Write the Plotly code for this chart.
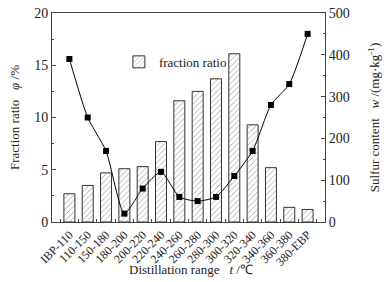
import plotly.graph_objects as go

categories = ["IBP-110", "110-150", "150-180", "180-200", "200-220", "220-240", "240-260",
              "260-280", "280-300", "300-320", "320-340", "340-360", "360-380", "380-EBP"]
fraction_ratio = [2.7, 3.5, 4.7, 5.1, 5.3, 7.7, 11.6, 12.5, 13.7, 16.1, 9.3, 5.2, 1.4, 1.2]
sulfur_content = [390, 250, 170, 20, 80, 120, 60, 50, 60, 110, 170, 280, 330, 450]

FONT = "Liberation Serif"

fig = go.Figure()
fig.add_trace(go.Bar(
    x=categories, y=fraction_ratio, name="fraction ratio",
    width=0.6,
    marker=dict(color="white", line=dict(color="#333333", width=1),
                pattern=dict(shape="/", fgcolor="#444444", bgcolor="white", size=4, solidity=0.2)),
    yaxis="y",
))
fig.add_trace(go.Scatter(
    x=categories, y=sulfur_content, name="sulfur content", showlegend=False,
    mode="lines+markers",
    line=dict(color="black", width=1, shape="spline", smoothing=0.6),
    marker=dict(symbol="square", size=6, color="black"),
    yaxis="y2",
))

axis_font = dict(family=FONT, size=13, color="#222222")
fig.update_layout(
    width=387, height=282,
    margin=dict(l=52, r=62, t=13, b=60),
    paper_bgcolor="white", plot_bgcolor="white",
    font=dict(family=FONT, size=13, color="#222222"),
    bargap=0.4,
    xaxis=dict(
        type="category", showline=True, linecolor="#444444", linewidth=1, mirror=True,
        ticks="inside", ticklen=3, tickcolor="#444444", tickson="boundaries",
        tickangle=-45, tickfont=dict(family=FONT, size=12, color="#222222"),
        automargin=False,
        showgrid=False, zeroline=False,
    ),
    yaxis=dict(
        range=[0, 20], dtick=5, showline=True, linecolor="#444444", linewidth=1,
        ticks="inside", ticklen=4, tickcolor="#444444",
        minor=dict(dtick=2.5, ticks="inside", ticklen=2, tickcolor="#444444"),
        tickfont=dict(family=FONT, size=14, color="#222222"), showgrid=False, zeroline=False,
        automargin=False,
        title=dict(text="Fraction ratio   <i>φ</i> /%", font=axis_font, standoff=11),
    ),
    yaxis2=dict(
        range=[0, 500], dtick=100, overlaying="y", side="right",
        showline=True, linecolor="#444444", linewidth=1,
        ticks="inside", ticklen=4, tickcolor="#444444",
        minor=dict(dtick=50, ticks="inside", ticklen=2, tickcolor="#444444"),
        tickfont=dict(family=FONT, size=14, color="#222222"), showgrid=False, zeroline=False,
        automargin=False,
        title=dict(text="Sulfur content   <i>w</i> /(mg·kg<sup>-1</sup>)", font=axis_font, standoff=21),
    ),
    legend=dict(x=0.245, y=0.766, xanchor="left", yanchor="middle",
                bgcolor="rgba(0,0,0,0)", font=dict(family=FONT, size=13, color="#222222")),
    annotations=[dict(
        text="Distillation range   <i>t</i> /℃", xref="paper", yref="paper",
        x=0.51, y=-0.228, xanchor="center", yanchor="middle", showarrow=False,
        font=axis_font,
    )],
)

fig.write_html("out.html", config={"displayModeBar": False},
               post_script="document.body.style.margin='0';document.body.style.overflow='hidden';")
